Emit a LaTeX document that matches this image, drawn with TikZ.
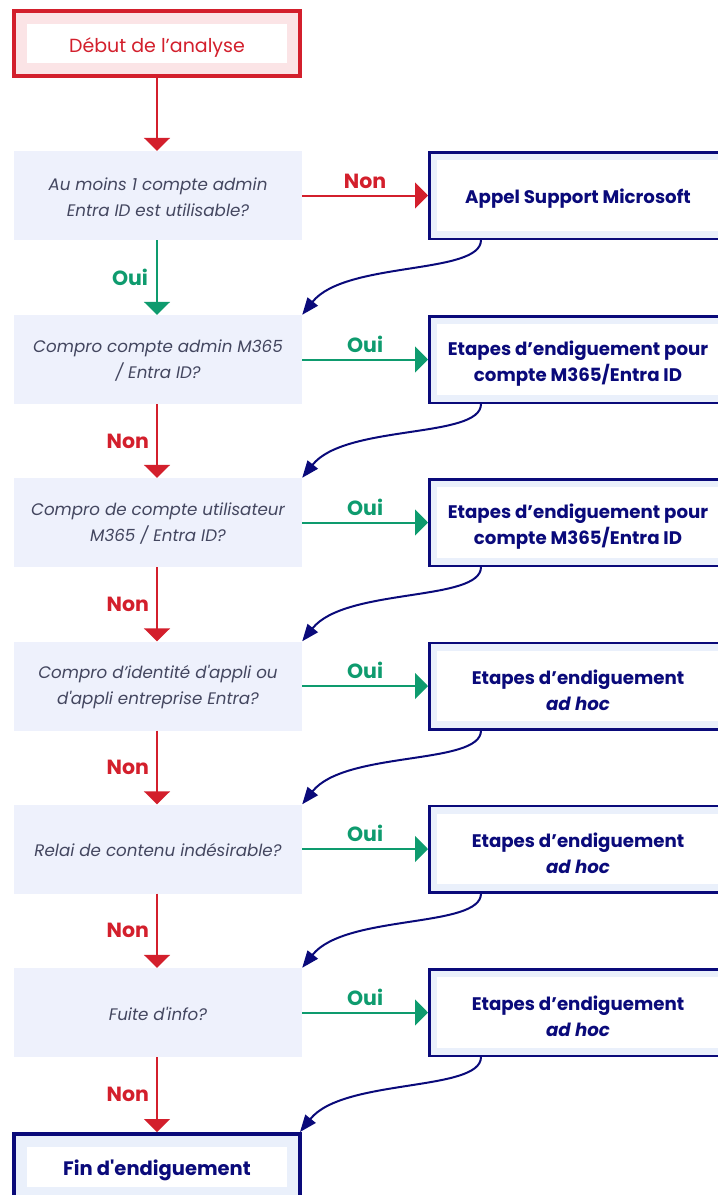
\documentclass[tikz,border=0pt]{standalone}
\usepackage{fontspec}
\setmainfont{Poppins}[Ligatures=TeXOff]
\usetikzlibrary{arrows.meta}
\definecolor{cred}{HTML}{D31F2C}
\definecolor{cgreen}{HTML}{0E9B6E}
\definecolor{cnavy}{HTML}{0A0A7A}
\definecolor{ctext}{HTML}{43465F}
\definecolor{decfill}{HTML}{EEF1FC}
\definecolor{boxfill}{HTML}{EAF0FB}
\definecolor{pinkfill}{HTML}{FBE4E6}
\tikzset{
  dec/.style={fill=decfill, minimum width=288pt, minimum height=89pt, inner sep=0pt},
  dectext/.style={align=center, text=ctext, inner sep=0pt, yshift=-1.5pt, font=\fontsize{16.7}{26}\selectfont\itshape},
  rbox/.style={draw=cnavy, line width=2.5pt, fill=boxfill, minimum width=297.5pt, minimum height=86.5pt,
    inner sep=0pt,
    path picture={\fill[white] ([shift={(8pt,-8pt)}]path picture bounding box.north west) rectangle ([shift={(-8pt,8pt)}]path picture bounding box.south east);}},
  rtext/.style={align=center, text=cnavy, inner sep=0pt, yshift=-4pt, font=\fontsize{18.2}{26}\selectfont\bfseries},
  termbox/.style={line width=4pt, minimum width=286pt, inner sep=0pt,
    path picture={\fill[white] ([shift={(13pt,-13pt)}]path picture bounding box.north west) rectangle ([shift={(-13pt,13pt)}]path picture bounding box.south east);}},
  termtext/.style={inner sep=0pt},
  varrow/.style={line width=2pt, -{Triangle[width=26pt,length=13pt]}},
  carrow/.style={draw=cnavy, line width=2pt, -{Triangle[width=13pt,length=17pt]}},
  lbl/.style={font=\fontsize{20.5}{22}\selectfont\bfseries, inner sep=0pt},
}
\begin{document}
\begin{tikzpicture}[x=1pt,y=-1pt]
\useasboundingbox (0,0) rectangle (718,1195);
\clip (0,0) rectangle (718,1195);
% start
\node[termbox, draw=cred, fill=pinkfill, minimum height=65pt,
  label={[termtext, text=cred, yshift=-4pt, font=\fontsize{19}{20}\selectfont]center:{Début de l’analyse}}] (start) at (157,43.5) {};
% decisions
\node[dec, label={[dectext]center:{Au moins 1 compte admin\\Entra ID est utilisable?}}] (d1) at (158,195.5) {};
\node[dec, label={[dectext]center:{Compro compte admin M365\\/ Entra ID?}}] (d2) at (158,359.5) {};
\node[dec, label={[dectext]center:{Compro de compte utilisateur\\M365 / Entra ID?}}] (d3) at (158,522.5) {};
\node[dec, label={[dectext]center:{Compro d’identité d'appli ou\\d'appli entreprise Entra?}}] (d4) at (158,686) {};
\node[dec, label={[dectext]center:{Relai de contenu indésirable?}}] (d5) at (158,849) {};
\node[dec, label={[dectext]center:{Fuite d'info?}}] (d6) at (158,1012.5) {};
% right boxes
\node[rbox, label={[rtext, yshift=1pt]center:{Appel Support Microsoft}}] (r1) at (578,195.5) {};
\node[rbox, label={[rtext]center:{Etapes d’endiguement pour\\compte M365/Entra ID}}] (r2) at (578,359.5) {};
\node[rbox, label={[rtext]center:{Etapes d’endiguement pour\\compte M365/Entra ID}}] (r3) at (578,522.5) {};
\node[rbox, label={[rtext]center:{Etapes d’endiguement\\\textit{ad hoc}}}] (r4) at (578,686) {};
\node[rbox, label={[rtext]center:{Etapes d’endiguement\\\textit{ad hoc}}}] (r5) at (578,849) {};
\node[rbox, label={[rtext]center:{Etapes d’endiguement\\\textit{ad hoc}}}] (r6) at (578,1012.5) {};
% end
\node[termbox, draw=cnavy, fill=boxfill, minimum height=66pt,
  label={[termtext, text=cnavy, yshift=-3pt, font=\fontsize{19.5}{20}\selectfont\bfseries]center:{Fin d'endiguement}}] (fin) at (157,1167) {};
% vertical arrows
\draw[varrow, cred] (start.south) -- (start.south |- d1.north);
\draw[varrow, cgreen] (d1.south -| start.south) -- (d2.north -| start.south) node[midway, left=8pt, lbl, text=cgreen] {Oui};
\draw[varrow, cred] (d2.south -| start.south) -- (d3.north -| start.south) node[midway, left=7pt, lbl, text=cred] {Non};
\draw[varrow, cred] (d3.south -| start.south) -- (d4.north -| start.south) node[midway, left=7pt, lbl, text=cred] {Non};
\draw[varrow, cred] (d4.south -| start.south) -- (d5.north -| start.south) node[midway, left=7pt, lbl, text=cred] {Non};
\draw[varrow, cred] (d5.south -| start.south) -- (d6.north -| start.south) node[midway, left=7pt, lbl, text=cred] {Non};
\draw[varrow, cred] (d6.south -| start.south) -- (fin.north) node[midway, left=7pt, lbl, text=cred] {Non};
% horizontal arrows
\draw[varrow, cred] (d1.east) -- (r1.west) node[midway, above=6pt, lbl, text=cred] {Non};
\draw[varrow, cgreen] (d2.east) -- (r2.west) node[midway, above=6pt, lbl, text=cgreen] {Oui};
\draw[varrow, cgreen] (d3.east) -- (r3.west) node[midway, above=6pt, lbl, text=cgreen] {Oui};
\draw[varrow, cgreen] (d4.east) -- (r4.west) node[midway, above=6pt, lbl, text=cgreen] {Oui};
\draw[varrow, cgreen] (d5.east) -- (r5.west) node[midway, above=6pt, lbl, text=cgreen] {Oui};
\draw[varrow, cgreen] (d6.east) -- (r6.west) node[midway, above=6pt, lbl, text=cgreen] {Oui};
% curved arrows
\foreach \a/\b in {r1/d2, r2/d3, r3/d4, r4/d5, r5/d6} {
  \coordinate (s) at ([xshift=-97pt]\a.south);
  \draw[carrow] (s) .. controls +(0,35) and +(43,-54) .. (\b.north east);
}
\coordinate (s6) at ([xshift=-97pt]r6.south);
\draw[carrow] (s6) .. controls +(0,35) and +(43,-54) .. ([xshift=-2pt]fin.north east);
\end{tikzpicture}
\end{document}
